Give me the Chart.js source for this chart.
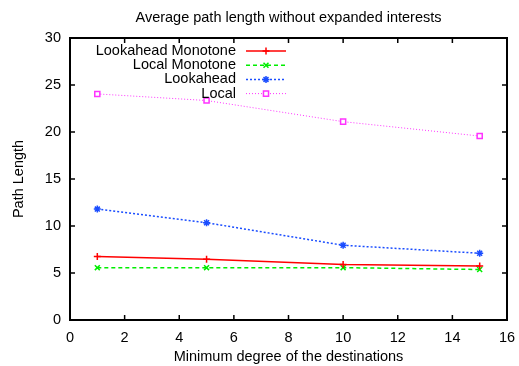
<!DOCTYPE html>
<html>
<head>
<meta charset="utf-8">
<script src="https://cdn.jsdelivr.net/npm/chart.js@4"></script>
<style>
  html, body { margin: 0; padding: 0; background: #fff; }
  #grafico { display: block; }
</style>
</head>
<body>
<canvas id="grafico" width="519" height="366"></canvas>
<script>
// datos
const titleText = 'Average path length without expanded interests';
const xTitle = 'Minimum degree of the destinations';
const yTitle = 'Path Length';
const degrees = [1, 5, 10, 15];
const lookaheadMonotone = [6.75, 6.45, 5.9, 5.75];
const localMonotone = [5.57, 5.57, 5.57, 5.37];
const lookahead = [11.8, 10.35, 7.95, 7.1];
const local = [24.05, 23.35, 21.1, 19.57];
const seriesNames = ['Lookahead Monotone', 'Local Monotone', 'Lookahead', 'Local'];
const xTickMin = 0, xTickMax = 16, xTickStep = 2;
const yTickMin = 0, yTickMax = 30, yTickStep = 5;

const fuente = '"Liberation Sans", Arial, Helvetica, sans-serif';
const tam = 14.5;

function puntos(valores) {
    return degrees.map((d, i) => ({ x: d, y: valores[i] }));
}

// marco con ticks hacia dentro (estilo gnuplot)
const marcoPlugin = {
    id: 'marco',
    afterDatasetsDraw(chart) {
        const { ctx, chartArea: a, scales } = chart;
        ctx.save();
        ctx.strokeStyle = '#000';
        ctx.lineWidth = 2;
        ctx.strokeRect(a.left, a.top, a.right - a.left, a.bottom - a.top);
        ctx.lineWidth = 1.5;
        ctx.beginPath();
        const largo = 5;
        for (let v = xTickMin; v <= xTickMax; v += xTickStep) {
            const px = scales.x.getPixelForValue(v);
            ctx.moveTo(px, a.bottom); ctx.lineTo(px, a.bottom - largo);
            ctx.moveTo(px, a.top); ctx.lineTo(px, a.top + largo);
        }
        for (let v = yTickMin; v <= yTickMax; v += yTickStep) {
            const py = scales.y.getPixelForValue(v);
            ctx.moveTo(a.left, py); ctx.lineTo(a.left + largo, py);
            ctx.moveTo(a.right, py); ctx.lineTo(a.right - largo, py);
        }
        ctx.stroke();

        // titulo
        ctx.fillStyle = '#000';
        ctx.font = tam + 'px ' + fuente;
        ctx.textAlign = 'center';
        ctx.textBaseline = 'middle';
        ctx.fillText(titleText, (a.left + a.right) / 2, 18);

        // leyenda
        const textoX = 236, lineaIni = 246, lineaFin = 286;
        chart.data.datasets.forEach((ds, i) => {
            const y = 51 + i * 14.2;
            ctx.font = tam + 'px ' + fuente;
            ctx.textAlign = 'right';
            ctx.fillStyle = '#000';
            ctx.fillText(ds.label, textoX, y);
            ctx.save();
            ctx.strokeStyle = ds.borderColor;
            ctx.lineWidth = ds.borderWidth;
            ctx.setLineDash(ds.borderDash || []);
            ctx.beginPath();
            ctx.moveTo(lineaIni, y); ctx.lineTo(lineaFin, y);
            ctx.stroke();
            ctx.setLineDash([]);
            ctx.fillStyle = ds.pointBackgroundColor;
            ctx.strokeStyle = ds.borderColor;
            ctx.lineWidth = ds.pointBorderWidth;
            Chart.helpers.drawPoint(ctx, {
                pointStyle: ds.pointStyle,
                radius: ds.pointRadius,
                borderWidth: ds.pointBorderWidth,
                rotation: 0
            }, (lineaIni + lineaFin) / 2, y);
            ctx.restore();
        });
        ctx.restore();
    }
};

const ctx = document.getElementById('grafico').getContext('2d');
const grafico = new Chart(ctx, {
    type: 'line',
    data: {
        datasets: [{
            label: seriesNames[0],
            data: puntos(lookaheadMonotone),
            borderColor: '#ff0000',
            borderWidth: 1.5,
            pointStyle: 'cross',
            pointRadius: 3.5,
            pointBorderWidth: 1.5,
            pointBackgroundColor: '#ff0000'
        }, {
            label: seriesNames[1],
            data: puntos(localMonotone),
            borderColor: '#00ee00',
            borderWidth: 1.5,
            borderDash: [4, 3],
            pointStyle: 'crossRot',
            pointRadius: 3.5,
            pointBorderWidth: 1.5,
            pointBackgroundColor: '#00ee00'
        }, {
            label: seriesNames[2],
            data: puntos(lookahead),
            borderColor: '#1a4dff',
            borderWidth: 1.5,
            borderDash: [2, 2],
            pointStyle: 'star',
            pointRadius: 3.5,
            pointBorderWidth: 1.5,
            pointBackgroundColor: '#1a4dff'
        }, {
            label: seriesNames[3],
            data: puntos(local),
            borderColor: '#ff33ff',
            borderWidth: 1,
            borderDash: [1, 2],
            pointStyle: 'rect',
            pointRadius: 3.6,
            pointBorderWidth: 1.5,
            pointBackgroundColor: '#ffffff'
        }]
    },
    options: {
        responsive: false,
        animation: false,
        layout: { padding: { top: 38, right: 12, bottom: 0, left: 0 } },
        plugins: {
            legend: { display: false },
            title: { display: false },
            tooltip: { enabled: false }
        },
        scales: {
            x: {
                type: 'linear',
                min: xTickMin,
                max: xTickMax,
                grid: { display: false, drawTicks: false },
                border: { display: false },
                ticks: {
                    stepSize: xTickStep,
                    padding: 9,
                    color: '#000',
                    font: { family: fuente, size: tam }
                },
                title: {
                    display: true,
                    text: xTitle,
                    color: '#000',
                    font: { family: fuente, size: tam },
                    padding: { top: 0, bottom: 0 }
                },
                afterFit(scale) {
                    scale.height = 46;
                    scale.paddingLeft = 0;
                    scale.paddingRight = 0;
                }
            },
            y: {
                min: yTickMin,
                max: yTickMax,
                grid: { display: false, drawTicks: false },
                border: { display: false },
                ticks: {
                    stepSize: yTickStep,
                    padding: 9,
                    color: '#000',
                    font: { family: fuente, size: tam }
                },
                title: {
                    display: true,
                    text: yTitle,
                    color: '#000',
                    font: { family: fuente, size: tam },
                    padding: { top: 10, bottom: 0 }
                },
                afterFit(scale) {
                    scale.width = 70;
                    scale.paddingTop = 0;
                    scale.paddingBottom = 0;
                }
            }
        }
    },
    plugins: [marcoPlugin]
});
</script>
</body>
</html>
